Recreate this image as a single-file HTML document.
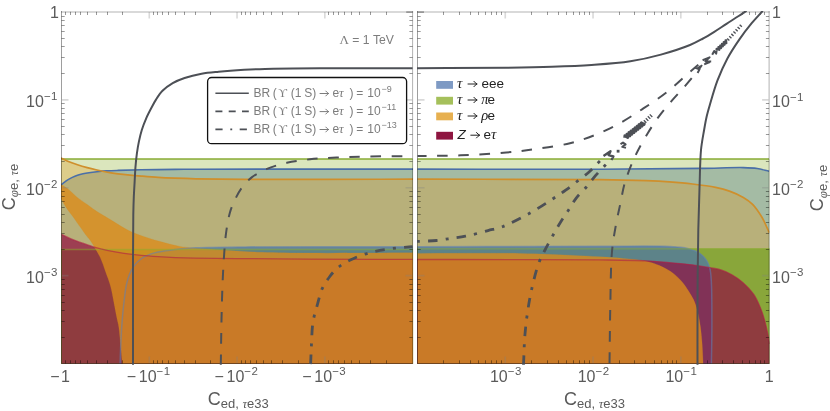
<!DOCTYPE html>
<html><head><meta charset="utf-8"><title>chart</title>
<style>html,body{margin:0;padding:0;background:#fff;}body{width:830px;height:411px;overflow:hidden;font-family:"Liberation Sans",sans-serif;}svg{display:block;will-change:transform;}</style></head>
<body>
<svg width="830" height="411" viewBox="0 0 830 411">
<defs>
<clipPath id="cl"><rect x="61" y="12" width="352.1" height="351.8"/></clipPath>
<clipPath id="cr"><rect x="417" y="12" width="352.5" height="351.8"/></clipPath>
<clipPath id="cl2"><rect x="61" y="11" width="352.1" height="353.8"/></clipPath>
<clipPath id="cr2"><rect x="417" y="11" width="352.5" height="353.8"/></clipPath>
</defs>
<rect width="830" height="411" fill="#fff"/>
<g clip-path="url(#cl)">
<path d="M61 185C62.07 184.13 63.1 183.24 64.2 182.4C65.33 181.54 66.43 180.7 67.7 179.9C69.1 179.02 70.7 178.16 72.3 177.4C73.96 176.62 75.72 175.9 77.5 175.3C79.29 174.7 81.12 174.23 83 173.8C84.95 173.36 86.86 173.03 89 172.7C91.45 172.32 94.12 171.99 96.9 171.7C99.99 171.38 103.32 171.11 106.7 170.9C110.33 170.67 113.56 170.56 118 170.4C124.36 170.18 132.73 169.96 141.2 169.8C151.45 169.61 165.25 169.51 175.2 169.4C182.98 169.32 187.17 169.25 196 169.2C211.49 169.11 234.09 169.12 260 169.1C300.08 169.07 362.07 169.1 413.1 169.1L413.1 365.5 L61 365.5 Z" fill="#5E81B5" fill-opacity="0.5"/>
<rect x="60.5" y="159" width="353.1" height="206.5" fill="#8FB032" fill-opacity="0.32"/>
<path d="M61 158C63.23 159.07 65.23 160.17 67.7 161.2C70.63 162.42 74.23 163.63 77.5 164.7C80.73 165.76 83.96 166.71 87.2 167.6C90.42 168.48 93.94 169.31 96.9 170C99.39 170.58 101.47 171.04 103.8 171.5C106.17 171.97 108.61 172.41 111 172.8C113.35 173.18 115.35 173.47 118 173.8C121.46 174.23 126.07 174.71 130 175.1C133.8 175.48 137.08 175.76 141.2 176.1C146.28 176.52 152.53 177.05 158.2 177.4C163.86 177.75 169.25 177.97 175.2 178.2C181.78 178.45 187.6 178.64 196 178.8C208.89 179.05 226.93 179.21 245 179.3C267.35 179.41 293.65 179.31 320 179.3C349.36 179.28 382.07 179.23 413.1 179.2L413.1 365.5 L61 365.5 Z" fill="#E19C24" fill-opacity="0.33"/>
<path d="M61.5 159H412.6" stroke="#88ab35" stroke-width="1.6" fill="none"/>
<path d="M61 185C62.07 184.13 63.1 183.24 64.2 182.4C65.33 181.54 66.43 180.7 67.7 179.9C69.1 179.02 70.7 178.16 72.3 177.4C73.96 176.62 75.72 175.9 77.5 175.3C79.29 174.7 81.12 174.23 83 173.8C84.95 173.36 86.86 173.03 89 172.7C91.45 172.32 94.12 171.99 96.9 171.7C99.99 171.38 103.32 171.11 106.7 170.9C110.33 170.67 113.56 170.56 118 170.4C124.36 170.18 132.73 169.96 141.2 169.8C151.45 169.61 165.25 169.51 175.2 169.4C182.98 169.32 187.17 169.25 196 169.2C211.49 169.11 234.09 169.12 260 169.1C300.08 169.07 362.07 169.1 413.1 169.1" stroke="#4a6fa8" stroke-width="1.6" fill="none"/>
<path d="M61 158C63.23 159.07 65.23 160.17 67.7 161.2C70.63 162.42 74.23 163.63 77.5 164.7C80.73 165.76 83.96 166.71 87.2 167.6C90.42 168.48 93.94 169.31 96.9 170C99.39 170.58 101.47 171.04 103.8 171.5C106.17 171.97 108.61 172.41 111 172.8C113.35 173.18 115.35 173.47 118 173.8C121.46 174.23 126.07 174.71 130 175.1C133.8 175.48 137.08 175.76 141.2 176.1C146.28 176.52 152.53 177.05 158.2 177.4C163.86 177.75 169.25 177.97 175.2 178.2C181.78 178.45 187.6 178.64 196 178.8C208.89 179.05 226.93 179.21 245 179.3C267.35 179.41 293.65 179.31 320 179.3C349.36 179.28 382.07 179.23 413.1 179.2" stroke="#cf8f2c" stroke-width="1.7" fill="none"/>
<rect x="60.5" y="249" width="353.1" height="116.5" fill="#7DA42A" fill-opacity="0.8"/>
<path d="M120.1 364.5C120.27 359.2 120.37 354.3 120.6 348.6C120.87 341.95 121.16 334.6 121.7 327C122.31 318.5 123.25 307.82 124.2 300C124.93 293.96 125.58 288.6 126.6 284C127.4 280.42 128.2 277.55 129.4 274.6C130.55 271.77 131.75 269.15 133.6 266.6C135.67 263.75 138.65 260.58 141.5 258.5C144.06 256.63 146.91 255.49 149.7 254.4C152.41 253.34 154.71 252.72 158 252C162.67 250.98 169.18 250.09 175.2 249.4C181.79 248.65 187.6 248.2 196 247.8C208.88 247.19 226.93 247.09 245 246.9C267.35 246.66 293.68 246.74 320 246.7C349.24 246.66 381.73 246.7 412.6 246.7L412.6 365.5 L120.1 365.5 Z" fill="#527A9D" fill-opacity="0.8"/>
<path d="M61.5 234.4C65.33 236.17 68.75 237.97 73 239.7C78.07 241.76 85.96 244.33 90 245.7C92.23 246.46 93.1 246.8 95.2 247.4C98.34 248.3 102.76 249.39 107.1 250.3C112.25 251.38 118.41 252.45 124.1 253.3C129.78 254.15 135.5 254.83 141.2 255.4C146.87 255.96 152.53 256.33 158.2 256.7C163.86 257.07 169.25 257.36 175.2 257.6C181.78 257.87 187.6 258.04 196 258.2C208.89 258.44 227.51 258.46 245 258.6C265.14 258.76 285.87 258.97 310 259.1C340.31 259.26 378.4 259.3 412.6 259.4L412.6 365.5 L61.5 365.5 Z" fill="#920F41" fill-opacity="0.7"/>
<path d="M122.2 364.5C121.77 359.2 121.41 354.3 120.9 348.6C120.3 341.95 119.66 332.51 118.8 327C118.26 323.53 117.66 321.86 117 318.6C116.08 314.08 114.98 307.81 113.9 302.4C112.81 296.95 111.95 291.28 110.5 286C109.1 280.89 107.13 276.02 105.4 271.2C103.73 266.56 102.18 261.68 100.3 257.6C98.67 254.06 96.78 251.03 95 248C93.35 245.19 91.7 242.37 90 240C88.52 237.94 86.96 236.44 85.5 234.5C83.96 232.45 82.47 230.07 81 228C79.64 226.08 78.27 224.3 77 222.5C75.81 220.8 74.87 219.26 73.6 217.5C72.12 215.45 70.12 213.13 68.6 211C67.21 209.04 66.04 207.21 64.8 205.2C63.5 203.09 62.27 200.8 61 198.6L61 184.5C63.23 185.9 65.35 186.92 67.7 188.7C70.71 190.98 74 194.73 77.3 197.4C80.5 199.99 84.05 202.21 87.2 204.5C90.09 206.6 92.35 208.49 95.5 210.6C99.41 213.21 104.1 215.85 109 218.8C114.81 222.3 121.8 227.08 128.1 230.2C133.82 233.03 139.39 235.01 145.1 237C150.72 238.96 156.34 240.54 162.1 242.1C167.97 243.68 174.87 245.45 180 246.4C183.79 247.1 185.65 247.26 190 247.7C198.12 248.52 213.17 249.44 225 250.2C237.16 250.98 248.86 251.82 262 252.3C276.96 252.85 290.98 252.97 310 253.1C337.88 253.29 378.73 252.9 413.1 252.8L413.6 365.5 L122.2 365.5 Z" fill="#DB8C1C" fill-opacity="0.8"/>
<path d="M122.2 364.5C121.77 359.2 121.41 354.3 120.9 348.6C120.3 341.95 119.66 332.51 118.8 327C118.26 323.53 117.66 321.86 117 318.6C116.08 314.08 114.98 307.81 113.9 302.4C112.81 296.95 111.95 291.28 110.5 286C109.1 280.89 107.13 276.02 105.4 271.2C103.73 266.56 102.18 261.68 100.3 257.6C98.67 254.06 96.78 251.03 95 248C93.35 245.19 91.7 242.37 90 240C88.52 237.94 86.96 236.44 85.5 234.5C83.96 232.45 82.47 230.07 81 228C79.64 226.08 78.27 224.3 77 222.5C75.81 220.8 74.87 219.26 73.6 217.5C72.12 215.45 70.12 213.13 68.6 211C67.21 209.04 66.04 207.21 64.8 205.2C63.5 203.09 62.27 200.8 61 198.6L61 184.5C63.23 185.9 65.35 186.92 67.7 188.7C70.71 190.98 74 194.73 77.3 197.4C80.5 199.99 84.05 202.21 87.2 204.5C90.09 206.6 92.35 208.49 95.5 210.6C99.41 213.21 104.1 215.85 109 218.8C114.81 222.3 121.8 227.08 128.1 230.2C133.82 233.03 139.39 235.01 145.1 237C150.72 238.96 156.34 240.54 162.1 242.1C167.97 243.68 174.87 245.45 180 246.4C183.79 247.1 185.65 247.26 190 247.7C198.12 248.52 213.17 249.44 225 250.2C237.16 250.98 248.86 251.82 262 252.3C276.96 252.85 290.98 252.97 310 253.1C337.88 253.29 378.73 252.9 413.1 252.8" stroke="#D88A1E" stroke-width="1" stroke-opacity="0.2" fill="none"/>
<path d="M120.1 364.5C120.27 359.2 120.37 354.3 120.6 348.6C120.87 341.95 121.16 334.6 121.7 327C122.31 318.5 123.25 307.82 124.2 300C124.93 293.96 125.58 288.6 126.6 284C127.4 280.42 128.2 277.55 129.4 274.6C130.55 271.77 131.75 269.15 133.6 266.6C135.67 263.75 138.65 260.58 141.5 258.5C144.06 256.63 146.91 255.49 149.7 254.4C152.41 253.34 154.71 252.72 158 252C162.67 250.98 169.18 250.09 175.2 249.4C181.79 248.65 187.6 248.2 196 247.8C208.88 247.19 226.93 247.09 245 246.9C267.35 246.66 293.68 246.74 320 246.7C349.24 246.66 381.73 246.7 412.6 246.7" stroke="#5E81B5" stroke-width="1.5" stroke-opacity="0.55" fill="none"/>
<path d="M61.5 249.5H412.6" stroke="#8FB032" stroke-width="1.4" stroke-opacity="0.5" fill="none"/>
<path d="M61.5 234.4C65.33 236.17 68.75 237.97 73 239.7C78.07 241.76 85.96 244.33 90 245.7C92.23 246.46 93.1 246.8 95.2 247.4C98.34 248.3 102.76 249.39 107.1 250.3C112.25 251.38 118.41 252.45 124.1 253.3C129.78 254.15 135.5 254.83 141.2 255.4C146.87 255.96 152.53 256.33 158.2 256.7C163.86 257.07 169.25 257.36 175.2 257.6C181.78 257.87 187.6 258.04 196 258.2C208.89 258.44 227.51 258.46 245 258.6C265.14 258.76 285.87 258.97 310 259.1C340.31 259.26 378.4 259.3 412.6 259.4" stroke="#B01E45" stroke-width="1.3" stroke-opacity="0.6" fill="none"/>
</g>
<g clip-path="url(#cr)">
<path d="M417.5 169.1C478.33 169.13 548.25 169.39 600 169.2C638.31 169.06 673.54 168.75 700 168.4C717.41 168.17 732.86 167.36 743.3 167.6C749.22 167.74 752.77 167.84 757.2 168.5C761.35 169.12 765.13 170.37 769.1 171.3L769.1 365.5 L417.5 365.5 Z" fill="#5E81B5" fill-opacity="0.5"/>
<rect x="416.5" y="159" width="353.6" height="206.5" fill="#8FB032" fill-opacity="0.32"/>
<path d="M417.5 179.2C478.33 179.33 559.28 179.07 600 179.6C620.49 179.87 633.45 180.22 646.2 180.7C655.22 181.04 661.6 181.35 669.3 181.9C677.03 182.45 684.79 183.08 692.5 184C700.22 184.92 708.92 186.02 715.6 187.4C720.82 188.48 724.86 189.47 729.4 191.1C734.09 192.78 739.24 195.01 743.3 197.4C746.84 199.48 749.71 201.38 752.6 204.3C755.96 207.7 759.38 213 761.8 217C763.76 220.25 765.1 223.48 766.4 226.3C767.46 228.59 768.2 230.5 769.1 232.6L769.1 365.5 L417.5 365.5 Z" fill="#E19C24" fill-opacity="0.33"/>
<path d="M417.5 159H769.1" stroke="#88ab35" stroke-width="1.6" fill="none"/>
<path d="M417.5 169.1C478.33 169.13 548.25 169.39 600 169.2C638.31 169.06 673.54 168.75 700 168.4C717.41 168.17 732.86 167.36 743.3 167.6C749.22 167.74 752.77 167.84 757.2 168.5C761.35 169.12 765.13 170.37 769.1 171.3" stroke="#4a6fa8" stroke-width="1.6" fill="none"/>
<path d="M417.5 179.2C478.33 179.33 559.28 179.07 600 179.6C620.49 179.87 633.45 180.22 646.2 180.7C655.22 181.04 661.6 181.35 669.3 181.9C677.03 182.45 684.79 183.08 692.5 184C700.22 184.92 708.92 186.02 715.6 187.4C720.82 188.48 724.86 189.47 729.4 191.1C734.09 192.78 739.24 195.01 743.3 197.4C746.84 199.48 749.71 201.38 752.6 204.3C755.96 207.7 759.38 213 761.8 217C763.76 220.25 765.1 223.48 766.4 226.3C767.46 228.59 768.2 230.5 769.1 232.6" stroke="#cf8f2c" stroke-width="1.7" fill="none"/>
<rect x="416.5" y="248.4" width="353.6" height="117.1" fill="#7DA42A" fill-opacity="0.8"/>
<path d="M417.5 246.8C478.33 246.63 553.61 246.3 600 246.3C628.59 246.3 653.58 245.63 669.3 246.5C677.45 246.95 682.43 247.17 687.8 248.5C692.2 249.59 696.21 251 699.4 253.1C702.23 254.96 704.55 257.42 706.3 260C707.96 262.45 708.97 265.02 709.8 268.1C710.8 271.82 710.94 275.34 711.3 280.9C711.97 291.18 711.89 310.7 711.9 325C711.91 338.53 711.57 351.33 711.4 364.5L711.4 365.5 L417.5 365.5 Z" fill="#527A9D" fill-opacity="0.8"/>
<path d="M417 259.5C451.33 259.53 487.83 259.52 520 259.6C548.35 259.67 576.97 259.63 600 259.9C617.5 260.1 633.45 260.18 646.2 260.8C655.23 261.24 661.59 261.93 669.3 262.6C677.03 263.27 685.33 263.87 692.5 264.8C698.76 265.61 704.85 266.76 710 267.7C714.1 268.45 717.4 268.76 721 269.9C724.71 271.07 728.36 272.7 731.9 274.7C735.64 276.82 739.32 279.33 742.8 282.4C746.65 285.79 750.84 290.09 753.8 294.4C756.6 298.49 758.47 303.07 760.3 307.5C762.08 311.81 763.5 316.4 764.7 320.6C765.79 324.4 766.49 327.81 767.3 331.6C768.16 335.6 768.9 339.87 769.7 344L769.7 365.5 L417 365.5 Z" fill="#920F41" fill-opacity="0.7"/>
<path d="M417.5 253.4C451.67 253.43 491.9 253.01 520 253.5C539.63 253.84 555.45 254.56 570 255.2C581.27 255.69 590.65 256.23 600 256.8C608.2 257.3 615.41 257.67 623.1 258.4C630.81 259.13 639.54 259.71 646.2 261.2C651.49 262.38 655.57 263.76 660.1 265.8C664.85 267.94 670.01 270.81 674 273.9C677.59 276.68 680.49 279.87 683.2 283.2C685.84 286.45 688.13 290.33 690.1 293.6C691.77 296.38 693.17 298.58 694.4 301.5C695.79 304.8 696.83 308.58 697.8 312.5C698.87 316.86 699.69 321.51 700.4 326.5C701.2 332.15 701.75 338.5 702.2 344.7C702.67 351.15 702.8 357.9 703.1 364.5L703.1 365.5 L417.5 365.5 Z" fill="#DB8C1C" fill-opacity="0.8"/>
<path d="M417.5 253.4C451.67 253.43 491.9 253.01 520 253.5C539.63 253.84 555.45 254.56 570 255.2C581.27 255.69 590.65 256.23 600 256.8C608.2 257.3 615.41 257.67 623.1 258.4C630.81 259.13 639.54 259.71 646.2 261.2C651.49 262.38 655.57 263.76 660.1 265.8C664.85 267.94 670.01 270.81 674 273.9C677.59 276.68 680.49 279.87 683.2 283.2C685.84 286.45 688.13 290.33 690.1 293.6C691.77 296.38 693.17 298.58 694.4 301.5C695.79 304.8 696.83 308.58 697.8 312.5C698.87 316.86 699.69 321.51 700.4 326.5C701.2 332.15 701.75 338.5 702.2 344.7C702.67 351.15 702.8 357.9 703.1 364.5" stroke="#D88A1E" stroke-width="1" stroke-opacity="0.2" fill="none"/>
<path d="M417.5 246.8C478.33 246.63 553.61 246.3 600 246.3C628.59 246.3 653.58 245.63 669.3 246.5C677.45 246.95 682.43 247.17 687.8 248.5C692.2 249.59 696.21 251 699.4 253.1C702.23 254.96 704.55 257.42 706.3 260C707.96 262.45 708.97 265.02 709.8 268.1C710.8 271.82 710.94 275.34 711.3 280.9C711.97 291.18 711.89 310.7 711.9 325C711.91 338.53 711.57 351.33 711.4 364.5" stroke="#5E81B5" stroke-width="1.5" stroke-opacity="0.55" fill="none"/>
<path d="M417.5 248.9H769.1" stroke="#8FB032" stroke-width="1.4" stroke-opacity="0.5" fill="none"/>
<path d="M417 259.5C451.33 259.53 487.83 259.52 520 259.6C548.35 259.67 576.97 259.63 600 259.9C617.5 260.1 633.45 260.18 646.2 260.8C655.23 261.24 661.59 261.93 669.3 262.6C677.03 263.27 685.33 263.87 692.5 264.8C698.76 265.61 704.85 266.76 710 267.7C714.1 268.45 717.4 268.76 721 269.9C724.71 271.07 728.36 272.7 731.9 274.7C735.64 276.82 739.32 279.33 742.8 282.4C746.65 285.79 750.84 290.09 753.8 294.4C756.6 298.49 758.47 303.07 760.3 307.5C762.08 311.81 763.5 316.4 764.7 320.6C765.79 324.4 766.49 327.81 767.3 331.6C768.16 335.6 768.9 339.87 769.7 344" stroke="#B01E45" stroke-width="1.3" stroke-opacity="0.6" fill="none"/>
</g>
<path d="M61 12H413.1" stroke="#808080" stroke-opacity="0.3" stroke-width="2" fill="none"/>
<path d="M61 363.5H413.1 M61.5 11V363" stroke="#000" stroke-opacity="0.38" stroke-width="1" fill="none"/>
<path d="M412.6 11V363" stroke="#000" stroke-opacity="0.3" stroke-width="1" fill="none"/>
<path d="M62 99.88h6.5 M412.1 99.88h-6.5 M149.28 12v6.5 M149.28 363v-6.5 M62 187.75h6.5 M412.1 187.75h-6.5 M237.05 12v6.5 M237.05 363v-6.5 M62 275.62h6.5 M412.1 275.62h-6.5 M324.83 12v6.5 M324.83 363v-6.5" stroke="#808080" stroke-opacity="0.3" stroke-width="1.6" fill="none"/>
<path d="M61.5 73.5h3.2 M412.6 73.5h-3.2 M122.5 11.8v3.2 M122.5 363.5v-3.2 M61.5 57.5h3.2 M412.6 57.5h-3.2 M107.5 11.8v3.2 M107.5 363.5v-3.2 M61.5 46.5h3.2 M412.6 46.5h-3.2 M96.5 11.8v3.2 M96.5 363.5v-3.2 M61.5 38.5h3.2 M412.6 38.5h-3.2 M87.5 11.8v3.2 M87.5 363.5v-3.2 M61.5 31.5h3.2 M412.6 31.5h-3.2 M80.5 11.8v3.2 M80.5 363.5v-3.2 M61.5 25.5h3.2 M412.6 25.5h-3.2 M75.5 11.8v3.2 M75.5 363.5v-3.2 M61.5 20.5h3.2 M412.6 20.5h-3.2 M70.5 11.8v3.2 M70.5 363.5v-3.2 M61.5 16.5h3.2 M412.6 16.5h-3.2 M65.5 11.8v3.2 M65.5 363.5v-3.2 M61.5 161.5h3.2 M412.6 161.5h-3.2 M210.5 11.8v3.2 M210.5 363.5v-3.2 M61.5 145.5h3.2 M412.6 145.5h-3.2 M195.5 11.8v3.2 M195.5 363.5v-3.2 M61.5 134.5h3.2 M412.6 134.5h-3.2 M184.5 11.8v3.2 M184.5 363.5v-3.2 M61.5 126.5h3.2 M412.6 126.5h-3.2 M175.5 11.8v3.2 M175.5 363.5v-3.2 M61.5 119.5h3.2 M412.6 119.5h-3.2 M168.5 11.8v3.2 M168.5 363.5v-3.2 M61.5 113.5h3.2 M412.6 113.5h-3.2 M162.5 11.8v3.2 M162.5 363.5v-3.2 M61.5 108.5h3.2 M412.6 108.5h-3.2 M157.5 11.8v3.2 M157.5 363.5v-3.2 M61.5 103.5h3.2 M412.6 103.5h-3.2 M153.5 11.8v3.2 M153.5 363.5v-3.2 M61.5 249.5h3.2 M412.6 249.5h-3.2 M298.5 11.8v3.2 M298.5 363.5v-3.2 M61.5 233.5h3.2 M412.6 233.5h-3.2 M282.5 11.8v3.2 M282.5 363.5v-3.2 M61.5 222.5h3.2 M412.6 222.5h-3.2 M271.5 11.8v3.2 M271.5 363.5v-3.2 M61.5 214.5h3.2 M412.6 214.5h-3.2 M263.5 11.8v3.2 M263.5 363.5v-3.2 M61.5 207.5h3.2 M412.6 207.5h-3.2 M256.5 11.8v3.2 M256.5 363.5v-3.2 M61.5 201.5h3.2 M412.6 201.5h-3.2 M250.5 11.8v3.2 M250.5 363.5v-3.2 M61.5 196.5h3.2 M412.6 196.5h-3.2 M245.5 11.8v3.2 M245.5 363.5v-3.2 M61.5 191.5h3.2 M412.6 191.5h-3.2 M241.5 11.8v3.2 M241.5 363.5v-3.2 M61.5 337.5h3.2 M412.6 337.5h-3.2 M386.5 11.8v3.2 M386.5 363.5v-3.2 M61.5 321.5h3.2 M412.6 321.5h-3.2 M370.5 11.8v3.2 M370.5 363.5v-3.2 M61.5 310.5h3.2 M412.6 310.5h-3.2 M359.5 11.8v3.2 M359.5 363.5v-3.2 M61.5 302.5h3.2 M412.6 302.5h-3.2 M351.5 11.8v3.2 M351.5 363.5v-3.2 M61.5 295.5h3.2 M412.6 295.5h-3.2 M344.5 11.8v3.2 M344.5 363.5v-3.2 M61.5 289.5h3.2 M412.6 289.5h-3.2 M338.5 11.8v3.2 M338.5 363.5v-3.2 M61.5 284.5h3.2 M412.6 284.5h-3.2 M333.5 11.8v3.2 M333.5 363.5v-3.2 M61.5 279.5h3.2 M412.6 279.5h-3.2 M328.5 11.8v3.2 M328.5 363.5v-3.2" stroke="#000" stroke-opacity="0.4" stroke-width="1" fill="none"/>
<path d="M417 12H769.6" stroke="#808080" stroke-opacity="0.3" stroke-width="2" fill="none"/>
<path d="M417 363.5H769.6 M417.5 11V363" stroke="#000" stroke-opacity="0.38" stroke-width="1" fill="none"/>
<path d="M769.1 11V363" stroke="#000" stroke-opacity="0.3" stroke-width="1" fill="none"/>
<path d="M418 99.88h6.5 M768.6 99.88h-6.5 M680.83 12v6.5 M680.83 363v-6.5 M418 187.75h6.5 M768.6 187.75h-6.5 M593.05 12v6.5 M593.05 363v-6.5 M418 275.62h6.5 M768.6 275.62h-6.5 M505.27 12v6.5 M505.27 363v-6.5" stroke="#808080" stroke-opacity="0.3" stroke-width="1.6" fill="none"/>
<path d="M417.5 73.5h3.2 M769.1 73.5h-3.2 M707.5 11.8v3.2 M707.5 363.5v-3.2 M417.5 57.5h3.2 M769.1 57.5h-3.2 M722.5 11.8v3.2 M722.5 363.5v-3.2 M417.5 46.5h3.2 M769.1 46.5h-3.2 M733.5 11.8v3.2 M733.5 363.5v-3.2 M417.5 38.5h3.2 M769.1 38.5h-3.2 M742.5 11.8v3.2 M742.5 363.5v-3.2 M417.5 31.5h3.2 M769.1 31.5h-3.2 M749.5 11.8v3.2 M749.5 363.5v-3.2 M417.5 25.5h3.2 M769.1 25.5h-3.2 M755.5 11.8v3.2 M755.5 363.5v-3.2 M417.5 20.5h3.2 M769.1 20.5h-3.2 M760.5 11.8v3.2 M760.5 363.5v-3.2 M417.5 16.5h3.2 M769.1 16.5h-3.2 M764.5 11.8v3.2 M764.5 363.5v-3.2 M417.5 161.5h3.2 M769.1 161.5h-3.2 M619.5 11.8v3.2 M619.5 363.5v-3.2 M417.5 145.5h3.2 M769.1 145.5h-3.2 M634.5 11.8v3.2 M634.5 363.5v-3.2 M417.5 134.5h3.2 M769.1 134.5h-3.2 M645.5 11.8v3.2 M645.5 363.5v-3.2 M417.5 126.5h3.2 M769.1 126.5h-3.2 M654.5 11.8v3.2 M654.5 363.5v-3.2 M417.5 119.5h3.2 M769.1 119.5h-3.2 M661.5 11.8v3.2 M661.5 363.5v-3.2 M417.5 113.5h3.2 M769.1 113.5h-3.2 M667.5 11.8v3.2 M667.5 363.5v-3.2 M417.5 108.5h3.2 M769.1 108.5h-3.2 M672.5 11.8v3.2 M672.5 363.5v-3.2 M417.5 103.5h3.2 M769.1 103.5h-3.2 M676.5 11.8v3.2 M676.5 363.5v-3.2 M417.5 249.5h3.2 M769.1 249.5h-3.2 M531.5 11.8v3.2 M531.5 363.5v-3.2 M417.5 233.5h3.2 M769.1 233.5h-3.2 M547.5 11.8v3.2 M547.5 363.5v-3.2 M417.5 222.5h3.2 M769.1 222.5h-3.2 M558.5 11.8v3.2 M558.5 363.5v-3.2 M417.5 214.5h3.2 M769.1 214.5h-3.2 M566.5 11.8v3.2 M566.5 363.5v-3.2 M417.5 207.5h3.2 M769.1 207.5h-3.2 M573.5 11.8v3.2 M573.5 363.5v-3.2 M417.5 201.5h3.2 M769.1 201.5h-3.2 M579.5 11.8v3.2 M579.5 363.5v-3.2 M417.5 196.5h3.2 M769.1 196.5h-3.2 M584.5 11.8v3.2 M584.5 363.5v-3.2 M417.5 191.5h3.2 M769.1 191.5h-3.2 M589.5 11.8v3.2 M589.5 363.5v-3.2 M417.5 337.5h3.2 M769.1 337.5h-3.2 M443.5 11.8v3.2 M443.5 363.5v-3.2 M417.5 321.5h3.2 M769.1 321.5h-3.2 M459.5 11.8v3.2 M459.5 363.5v-3.2 M417.5 310.5h3.2 M769.1 310.5h-3.2 M470.5 11.8v3.2 M470.5 363.5v-3.2 M417.5 302.5h3.2 M769.1 302.5h-3.2 M478.5 11.8v3.2 M478.5 363.5v-3.2 M417.5 295.5h3.2 M769.1 295.5h-3.2 M485.5 11.8v3.2 M485.5 363.5v-3.2 M417.5 289.5h3.2 M769.1 289.5h-3.2 M491.5 11.8v3.2 M491.5 363.5v-3.2 M417.5 284.5h3.2 M769.1 284.5h-3.2 M496.5 11.8v3.2 M496.5 363.5v-3.2 M417.5 279.5h3.2 M769.1 279.5h-3.2 M501.5 11.8v3.2 M501.5 363.5v-3.2" stroke="#000" stroke-opacity="0.4" stroke-width="1" fill="none"/>
<path d="M406.2 12.1H412.6 M417.5 12.1H424" stroke="#000" stroke-opacity="0.3" stroke-width="1.6" fill="none"/>
<g clip-path="url(#cl2)" fill="none" stroke="#4d5056" stroke-linecap="butt" stroke-linejoin="round">
<path d="M133 365C133 330 132.91 287.75 133 260C133.06 241.77 133.1 226.32 133.3 214.7C133.43 207.44 133.57 202.61 133.8 197C134.01 191.9 134.33 187.27 134.6 182.4C134.87 177.53 135.02 172.65 135.4 167.8C135.78 162.95 136.27 157.86 136.9 153.3C137.46 149.18 138.09 145.48 138.9 141.6C139.72 137.71 140.6 133.84 141.8 130C143.02 126.07 144.52 122.15 146.2 118.3C147.91 114.38 150.21 110.08 152 106.7C153.42 104.02 154.42 102.04 156 99.6C157.83 96.77 159.86 93.46 162.5 90.8C165.35 87.92 169.03 85.23 172.7 83.1C176.39 80.96 180.22 79.48 184.6 78C189.7 76.27 195.89 74.75 201.6 73.7C207.26 72.66 212.43 72.3 218.7 71.7C226.35 70.97 236.13 70.28 244.2 69.8C251.48 69.37 256.14 69.13 265 68.9C280.65 68.49 307.04 68.42 330 68.3C355.89 68.16 385.07 68.23 412.6 68.2" stroke-width="2.0"/>
<path d="M220.8 365C221.03 350 221.19 334.06 221.5 320C221.77 307.6 222.06 295.91 222.5 285C222.89 275.41 223.3 266.78 223.9 258C224.48 249.63 224.95 241.28 226 233.5C226.97 226.34 228.18 218.82 229.8 213C231.05 208.49 232.37 205.24 234.2 201.3C236.2 196.98 238.57 192.19 241.5 188.2C244.41 184.23 247.73 180.5 251.7 177.4C255.92 174.11 260.89 171.53 266.3 169.2C272.43 166.56 279.68 164.44 286.8 162.8C294.26 161.09 302.08 160.18 310.1 159.3C318.58 158.37 327.4 157.95 336.4 157.5C345.87 157.03 354.71 156.83 365.6 156.6C379.41 156.31 396.93 156.27 412.6 156.1" stroke-width="2.0" stroke-dasharray="10.6 10.55" stroke-dashoffset="0"/>
<path d="M310.6 365C310.9 357.83 311.1 350.66 311.5 343.5C311.9 336.33 311.91 328.81 313 322C314.02 315.66 316 309.65 317.6 303.9C319.08 298.59 320.09 293.36 322.2 288.7C324.21 284.27 326.95 280.21 329.8 276.5C332.54 272.93 335.31 269.64 338.9 266.8C342.81 263.7 347.7 261.19 352.6 258.9C357.79 256.48 363.54 254.42 369.3 252.8C375.2 251.14 381 250.09 387.6 249.1C395.26 247.95 404.27 247.43 412.6 246.6" stroke-width="2.8" stroke-dasharray="9.6 8.2 3 8.1" stroke-dashoffset="28.06"/>
</g>
<g clip-path="url(#cr2)" fill="none" stroke="#4d5056" stroke-linecap="butt" stroke-linejoin="round">
<path d="M417 68.2C446.77 68.03 481.47 68.01 506.3 67.7C524.06 67.48 537.32 67.28 552 66.8C565.65 66.35 578.4 65.92 591.5 65C604.53 64.08 618.27 63.2 630.4 61.3C641.24 59.6 650.92 57.33 660.9 54.6C670.78 51.89 682.46 48.08 690 45C695.02 42.95 698.18 41.18 702.2 39C706.29 36.78 710.29 34.31 714.3 31.8C718.39 29.25 722.43 26.44 726.5 23.8C730.56 21.17 735.1 18.35 738.7 16C741.6 14.11 743.9 12.53 746.5 10.8" stroke-width="2.0"/>
<path d="M697.5 365C697.5 343.33 697.37 322.07 697.5 300C697.63 277.1 697.88 250.76 698.3 230C698.64 213.35 699.12 199.06 699.6 185C700.03 172.6 700.03 160.02 701 150C701.74 142.38 703.09 135.92 704.1 130C704.91 125.25 705.54 121.4 706.5 117.2C707.45 113.07 708.41 109.76 709.8 105C711.78 98.21 714.5 88.27 717.5 80.4C720.4 72.8 723.66 65.46 727.4 58.5C731.05 51.71 735.4 45.16 739.6 39.1C743.52 33.44 747.66 28.1 751.7 23.2C755.39 18.73 759.1 14.93 762.8 10.8" stroke-width="2.0"/>
<path d="M417.5 156.1C431.87 155.83 446.03 155.88 460.6 155.3C475.62 154.7 492.63 153.73 506.3 152.5C517.48 151.5 526.36 150.4 536.7 148.9C547.57 147.33 559.86 145.7 570 143.2C578.82 141.02 586.29 138.47 594.3 135.3C602.53 132.04 610.7 128.15 618.7 123.8C626.94 119.32 634.96 113.99 643 108.7C651.2 103.3 659.87 97.59 667.4 91.7C674.43 86.2 681.16 79.58 686.9 74.6C691.4 70.69 694.97 67.67 699 64.2" stroke-width="2.0" stroke-dasharray="10.6 10.55" stroke-dashoffset="1.5"/>
<path d="M609.5 365C609.77 345.4 609.87 325.44 610.3 306.2C610.71 287.64 610.67 266.43 612 251.5C612.93 241.05 614.42 233.36 615.9 225C617.25 217.41 618.88 210.56 620.4 203.4C621.91 196.3 622.75 189.61 625 182.2C627.61 173.6 631.71 163.46 635.7 155C639.4 147.15 643.68 139.9 647.9 133C651.84 126.56 655.88 120.43 660.1 114.8C664.03 109.55 668.2 104.92 672.3 100.2C676.3 95.6 680.4 91.4 684.4 86.8C688.5 82.08 693.39 76.25 696.6 72.2C698.81 69.41 700.2 67.4 702 65" stroke-width="2.0" stroke-dasharray="10.6 10.55" stroke-dashoffset="-2"/>
<path d="M417 241.4C423.53 241.1 430.53 241.09 436.6 240.5C441.92 239.99 446.61 239.03 451.5 238.3C456.24 237.59 460.31 237.23 465.5 236.2C472.14 234.88 481.34 232.33 488 230.6C493.34 229.21 496.99 228.74 502.4 226.7C509.98 223.85 520.22 218.5 528.7 213.8C537.08 209.16 546.23 203.07 553 198.7C557.95 195.51 561.6 193.14 565.7 190.2C569.73 187.31 573.53 184.2 577.4 181.2C581.23 178.23 585.36 175.38 588.8 172.3C591.97 169.46 594.77 166.14 597.4 163.5C599.6 161.3 601.47 159.5 603.5 157.5" stroke-width="2.8" stroke-dasharray="9.6 8.2 3 8.1" stroke-dashoffset="18.0"/>
<path d="M523.5 365C524.07 353.93 524.11 343.1 525.2 331.8C526.35 319.9 528.03 307.09 530.4 295.3C532.68 283.98 535.96 270.63 539 262.4C540.93 257.16 542.8 254.29 545 250C547.43 245.26 550.34 239.96 553 235.2C555.51 230.71 557.86 226.46 560.5 222.2C563.16 217.92 566.2 213.75 568.9 209.6C571.49 205.62 573.53 201.52 576.4 197.8C579.34 193.98 583.17 190.74 586.4 187C589.67 183.21 592.73 178.86 595.9 175.2C598.83 171.83 602.39 168.34 604.7 165.8C606.24 164.1 607.23 162.93 608.5 161.5" stroke-width="2.8" stroke-dasharray="9.6 8.2 3 8.1"/>
<path d="M603.5 156 L610.5 151.2 L608.7 155.2 L613.4 156.5 L611.4 160" stroke-width="2.4"/>
<rect x="616.7" y="149.8" width="2.8" height="2.8" fill="#4d5056" stroke="none"/>
<path d="M620.5 144.2 L623 142.6 L625.6 144.4 L622.3 146.8 L626 147.8" stroke-width="2"/>
<path d="M624.8 137.8L624.89 135.81L627.77 137.35L626.93 134.19L629.82 135.73L628.97 132.57L631.86 134.11L631.01 130.95L633.9 132.49L633.06 129.33L635.94 130.87L635.1 127.71L637.99 129.25L637.14 126.09L640.03 127.63L639.18 124.47L642.07 126.01L641.23 122.85L644.11 124.39L644.2 122.4" stroke-width="3.0"/>
<path d="M644.6 122 L652.6 114.1" stroke-width="3.6" stroke-dasharray="1.3 1.5"/>
<path d="M694.8 67.6 L699.5 69.4 L697.6 73 M697.2 68.6 L700.8 66" stroke-width="2"/>
<path d="M702.6 60.2 L709.6 57.4 L705.4 61.4 L711.2 61.6 M704.2 64.4 L709.8 62" stroke-width="2"/>
<path d="M712.2 54.8 L714.2 51 L716.2 53.6 L716.6 50.6" stroke-width="2"/>
<path d="M716.6 50.6L716.67 48.89L719.21 49.79L718.45 47.2L720.99 48.11L720.23 45.52L722.77 46.42L722.02 43.84L724.56 44.74L723.8 42.15L726.34 43.06L725.58 40.47L727.3 40.5" stroke-width="2.3"/>
<path d="M727.8 40 L741.4 25" stroke-width="3" stroke-dasharray="1.4 1.7"/>
</g>
<g font-family="Liberation Sans, sans-serif" fill="#5a5a5a">
<text x="59" y="17.6" font-size="16" text-anchor="end">1</text>
<text x="58" y="106.97" font-size="16" text-anchor="end">10<tspan font-size="11.5" dy="-6.5" letter-spacing="0.5">−1</tspan></text>
<text x="58" y="194.85" font-size="16" text-anchor="end">10<tspan font-size="11.5" dy="-6.5" letter-spacing="0.5">−2</tspan></text>
<text x="58" y="282.73" font-size="16" text-anchor="end">10<tspan font-size="11.5" dy="-6.5" letter-spacing="0.5">−3</tspan></text>
<text x="772.1" y="17.8" font-size="16" text-anchor="start">1</text>
<text x="772.1" y="107.08" font-size="16" text-anchor="start">10<tspan font-size="11.5" dy="-6.5" letter-spacing="0.5">−1</tspan></text>
<text x="772.1" y="194.95" font-size="16" text-anchor="start">10<tspan font-size="11.5" dy="-6.5" letter-spacing="0.5">−2</tspan></text>
<text x="772.1" y="282.82" font-size="16" text-anchor="start">10<tspan font-size="11.5" dy="-6.5" letter-spacing="0.5">−3</tspan></text>
<text x="60" y="381.5" font-size="16" text-anchor="middle">−<tspan dx="1.5">1</tspan></text>
<text x="148.68" y="381.5" font-size="16" text-anchor="middle">−<tspan dx="2.8">10</tspan><tspan font-size="11.5" dy="-6.5" letter-spacing="0.5">−1</tspan></text>
<text x="236.45" y="381.5" font-size="16" text-anchor="middle">−<tspan dx="2.8">10</tspan><tspan font-size="11.5" dy="-6.5" letter-spacing="0.5">−2</tspan></text>
<text x="324.23" y="381.5" font-size="16" text-anchor="middle">−<tspan dx="2.8">10</tspan><tspan font-size="11.5" dy="-6.5" letter-spacing="0.5">−3</tspan></text>
<text x="681.43" y="381.5" font-size="16" text-anchor="middle">10<tspan font-size="11.5" dy="-6.5" letter-spacing="0.5">−1</tspan></text>
<text x="593.65" y="381.5" font-size="16" text-anchor="middle">10<tspan font-size="11.5" dy="-6.5" letter-spacing="0.5">−2</tspan></text>
<text x="505.88" y="381.5" font-size="16" text-anchor="middle">10<tspan font-size="11.5" dy="-6.5" letter-spacing="0.5">−3</tspan></text>
<text x="769.1" y="381.5" font-size="16" text-anchor="middle">1</text>
<text x="238.25" y="404.6" font-size="18" text-anchor="middle">C<tspan font-size="13" dy="3.4">ed, <tspan font-family="Liberation Serif, serif" font-style="italic">τ</tspan>e33</tspan></text>
<text x="594.5" y="404.6" font-size="18" text-anchor="middle">C<tspan font-size="13" dy="3.4">ed, <tspan font-family="Liberation Serif, serif" font-style="italic">τ</tspan>e33</tspan></text>
<text transform="translate(14.8 187) rotate(-90)" font-size="18" text-anchor="middle">C<tspan font-size="13" dy="3.4"><tspan font-family="Liberation Serif, serif" font-style="italic">φ</tspan>e, <tspan font-family="Liberation Serif, serif" font-style="italic">τ</tspan>e</tspan></text>
<text transform="translate(823.4 188) rotate(-90)" font-size="18" text-anchor="middle">C<tspan font-size="13" dy="3.4"><tspan font-family="Liberation Serif, serif" font-style="italic">φ</tspan>e, <tspan font-family="Liberation Serif, serif" font-style="italic">τ</tspan>e</tspan></text>
</g>
<text x="339.5" y="43.6" font-family="Liberation Sans, sans-serif" font-size="12.2" fill="#7d7d7d"><tspan font-family="Liberation Serif, serif" font-size="13">Λ</tspan> = 1 TeV</text>
<rect x="207.6" y="77.5" width="199" height="66.2" rx="4" ry="4" fill="#fff" stroke="#111" stroke-width="1.3"/>
<path d="M215.4 93.3H248.8" stroke="#4d5056" stroke-width="1.5" fill="none"/>
<text y="96.8" font-family="Liberation Sans, sans-serif" font-size="12" fill="#7c7c7c"><tspan x="253.4">BR</tspan><tspan x="272.8">(</tspan><tspan x="278" font-family="Liberation Serif, serif" font-size="12.5">ϒ</tspan><tspan x="290.8">(1</tspan><tspan x="304.2">S)</tspan><tspan x="332.4">e</tspan><tspan font-family="Liberation Serif, serif" font-style="italic" font-size="13">τ</tspan><tspan x="349.4">)</tspan><tspan x="356.2">=</tspan><tspan x="367.3">10</tspan><tspan x="381.6" font-size="9" dy="-4.6">−9</tspan></text>
<path d="M320 93.5H328.6 M325.84 91.1Q327.16 92.78 328.6 93.5 Q327.16 94.22 325.84 95.9" stroke="#7c7c7c" stroke-width="1.0" fill="none" stroke-linecap="round"/>
<path d="M215.4 111.4H248.8" stroke="#4d5056" stroke-width="1.6" fill="none" stroke-dasharray="7 6.3"/>
<text y="114.9" font-family="Liberation Sans, sans-serif" font-size="12" fill="#7c7c7c"><tspan x="253.4">BR</tspan><tspan x="272.8">(</tspan><tspan x="278" font-family="Liberation Serif, serif" font-size="12.5">ϒ</tspan><tspan x="290.8">(1</tspan><tspan x="304.2">S)</tspan><tspan x="332.4">e</tspan><tspan font-family="Liberation Serif, serif" font-style="italic" font-size="13">τ</tspan><tspan x="349.4">)</tspan><tspan x="356.2">=</tspan><tspan x="367.3">10</tspan><tspan x="381.6" font-size="9" dy="-4.6">−11</tspan></text>
<path d="M320 111.6H328.6 M325.84 109.2Q327.16 110.88 328.6 111.6 Q327.16 112.32 325.84 114" stroke="#7c7c7c" stroke-width="1.0" fill="none" stroke-linecap="round"/>
<path d="M215.4 129.3H248.8" stroke="#4d5056" stroke-width="1.8" fill="none" stroke-dasharray="7.2 7.7 1.9 7.5 7.2 30"/>
<text y="132.8" font-family="Liberation Sans, sans-serif" font-size="12" fill="#7c7c7c"><tspan x="253.4">BR</tspan><tspan x="272.8">(</tspan><tspan x="278" font-family="Liberation Serif, serif" font-size="12.5">ϒ</tspan><tspan x="290.8">(1</tspan><tspan x="304.2">S)</tspan><tspan x="332.4">e</tspan><tspan font-family="Liberation Serif, serif" font-style="italic" font-size="13">τ</tspan><tspan x="349.4">)</tspan><tspan x="356.2">=</tspan><tspan x="367.3">10</tspan><tspan x="381.6" font-size="9" dy="-4.6">−13</tspan></text>
<path d="M320 129.5H328.6 M325.84 127.1Q327.16 128.78 328.6 129.5 Q327.16 130.22 325.84 131.9" stroke="#7c7c7c" stroke-width="1.0" fill="none" stroke-linecap="round"/>
<rect x="436.2" y="81" width="16.8" height="7.8" fill="#5E81B5" fill-opacity="0.8"/>
<text y="88.2" font-family="Liberation Sans, sans-serif" font-size="13.5" fill="#222"><tspan x="457"><tspan font-family="Liberation Serif, serif" font-style="italic" font-size="15">τ</tspan></tspan><tspan x="481.6">eee</tspan></text>
<rect x="436.2" y="96.8" width="16.8" height="7.8" fill="#8FB032" fill-opacity="0.8"/>
<text y="104.2" font-family="Liberation Sans, sans-serif" font-size="13.5" fill="#222"><tspan x="457"><tspan font-family="Liberation Serif, serif" font-style="italic" font-size="15">τ</tspan></tspan><tspan x="481.2" font-family="Liberation Serif, serif" font-style="italic" font-size="14.5">π</tspan><tspan x="487.6">e</tspan></text>
<rect x="436.2" y="112.5" width="16.8" height="7.8" fill="#E19C24" fill-opacity="0.8"/>
<text y="120.2" font-family="Liberation Sans, sans-serif" font-size="13.5" fill="#222"><tspan x="457"><tspan font-family="Liberation Serif, serif" font-style="italic" font-size="15">τ</tspan></tspan><tspan x="481.2" font-family="Liberation Serif, serif" font-style="italic" font-size="14.5">ρ</tspan><tspan x="487.6">e</tspan></text>
<rect x="436.2" y="131.8" width="16.8" height="7.8" fill="#8E1540" fill-opacity="1.0"/>
<text y="139.4" font-family="Liberation Sans, sans-serif" font-size="13.5" fill="#222"><tspan x="457.4" font-style="italic">Z</tspan><tspan x="483.4">e</tspan><tspan font-family="Liberation Serif, serif" font-style="italic" font-size="15">τ</tspan></text>
<path d="M468 84H477 M473.89 81.3Q475.38 83.19 477 84 Q475.38 84.81 473.89 86.7" stroke="#222" stroke-width="1.0" fill="none" stroke-linecap="round"/>
<path d="M468 100H477 M473.89 97.3Q475.38 99.19 477 100 Q475.38 100.81 473.89 102.7" stroke="#222" stroke-width="1.0" fill="none" stroke-linecap="round"/>
<path d="M468 116H477 M473.89 113.3Q475.38 115.19 477 116 Q475.38 116.81 473.89 118.7" stroke="#222" stroke-width="1.0" fill="none" stroke-linecap="round"/>
<path d="M470.8 135.2H479.6 M476.5 132.5Q477.98 134.39 479.6 135.2 Q477.98 136.01 476.5 137.9" stroke="#222" stroke-width="1.0" fill="none" stroke-linecap="round"/>
</svg>
</body></html>
